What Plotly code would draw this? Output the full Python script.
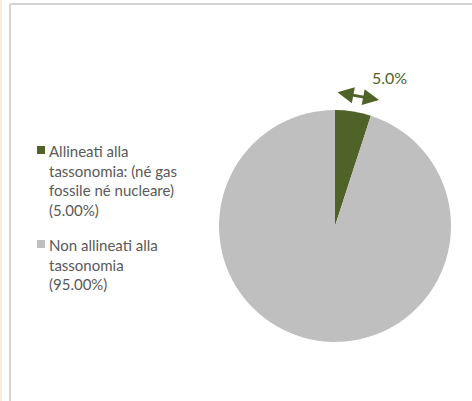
import plotly.graph_objects as go

# ---------- data ----------
labels = [
    "Allineati alla<br>tassonomia: (né gas<br>fossile né nucleare)<br>(5.00%)",
    "Non allineati alla<br>tassonomia<br>(95.00%)",
]
values = [5.0, 95.0]
colors = ["#4F6228", "#BFBFBF"]
callout = "5.0%"

W, H = 472, 401
GREEN = "#4F6228"
TXT = "#595959"
FONT = "Lato"

fig = go.Figure()
fig.add_trace(go.Pie(
    labels=labels, values=values, sort=False, direction="clockwise",
    rotation=0, textinfo="none", hoverinfo="label+percent", showlegend=False,
    marker=dict(colors=colors, line=dict(width=0)),
    domain=dict(x=[219 / W, 451 / W], y=[(H - 342) / H, (H - 110) / H]),
))

# legend drawn by hand so the swatch/text spacing matches
legend_tops = [140, 234]
for lab, col, top in zip(labels, colors, legend_tops):
    fig.add_shape(type="rect", xref="paper", yref="paper",
                  x0=37 / W, x1=45 / W, y0=1 - (top + 14) / H, y1=1 - (top + 6) / H,
                  line=dict(width=0), fillcolor=col)
    fig.add_annotation(x=47 / W, y=1 - top / H, xref="paper", yref="paper",
                       xanchor="left", yanchor="top", align="left",
                       text=lab, showarrow=False,
                       font=dict(size=15, color=TXT, family=FONT))

# callout label + double arrow
fig.add_annotation(x=389 / W, y=1 - 77 / H, xref="paper", yref="paper",
                   xanchor="center", yanchor="middle",
                   text=callout, showarrow=False,
                   font=dict(size=16, color=GREEN, family=FONT))
fig.add_annotation(x=379 / W, y=1 - 100 / H, xref="paper", yref="paper",
                   ax=-43, ay=-8, text="", showarrow=True,
                   arrowside="end+start", arrowhead=2, arrowsize=1.15,
                   arrowwidth=2.8, arrowcolor=GREEN)

# frame (top and left edges of the chart box)
fig.add_shape(type="line", xref="paper", yref="paper",
              x0=10 / W, x1=1, y0=1 - 4 / H, y1=1 - 4 / H,
              line=dict(color="#D4D4D4", width=2))
fig.add_shape(type="line", xref="paper", yref="paper",
              x0=10 / W, x1=10 / W, y0=0, y1=1 - 4 / H,
              line=dict(color="#D4D4D4", width=2))
fig.add_shape(type="rect", xref="paper", yref="paper",
              x0=0, x1=2 / W, y0=0, y1=1,
              line=dict(width=0), fillcolor="#FCEBDA")

fig.update_layout(
    width=W, height=H,
    margin=dict(l=0, r=0, t=0, b=0),
    paper_bgcolor="white", plot_bgcolor="white",
    font=dict(family=FONT, size=15, color=TXT),
    showlegend=False,
)

fig.write_html("out.html", config={"displayModeBar": False},
               post_script="document.body.style.margin='0';")
